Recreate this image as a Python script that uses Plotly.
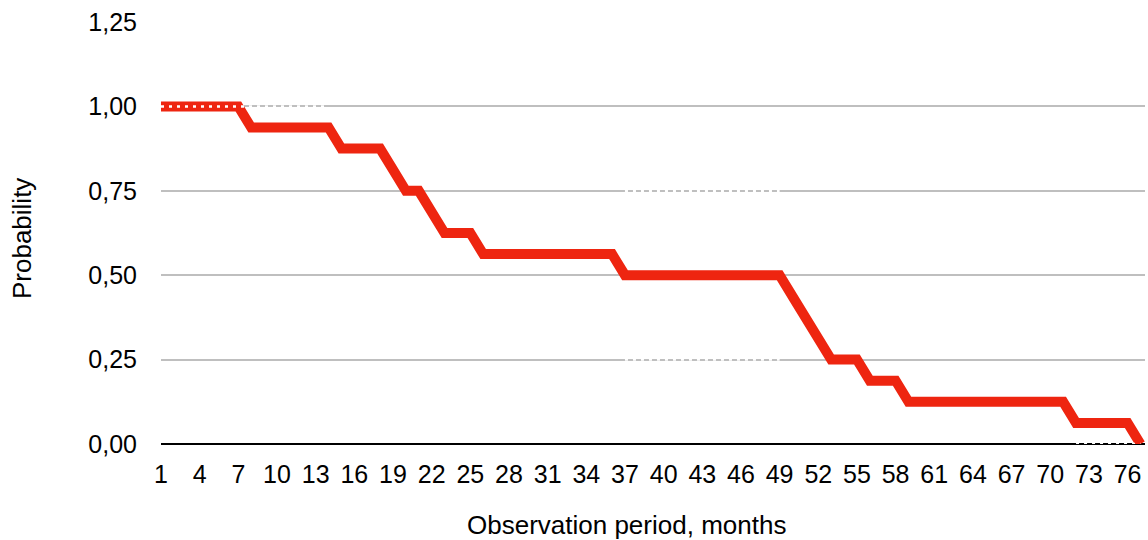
import plotly.graph_objects as go

# Observation months (categories)
months = list(range(1, 78))

# Survival probability per month
probability = (
    [1.0] * 7 +
    [0.9375] * 7 +
    [0.875] * 4 +
    [0.8125] +
    [0.75] * 2 +
    [0.6875] +
    [0.625] * 3 +
    [0.5625] * 11 +
    [0.5] * 13 +
    [0.4375, 0.375, 0.3125] +
    [0.25] * 3 +
    [0.1875] * 3 +
    [0.125] * 13 +
    [0.0625] * 5 +
    [0.0]
)

# Secondary (white dotted) series segments, None = gap
dotted_months = [1, 14, None, 37, 49, None, 37, 49, None, 72, 77]
dotted_values = [1.0, 1.0, None, 0.75, 0.75, None, 0.25, 0.25, None, 0.0, 0.0]

y_ticks = [0, 0.25, 0.5, 0.75, 1.0, 1.25]
y_ticktext = ["0,00", "0,25", "0,50", "0,75", "1,00", "1,25"]
x_ticks = list(range(1, 77, 3))

x_title = "Observation period, months"
y_title = "Probability"

fig = go.Figure()
fig.add_trace(go.Scatter(
    x=months, y=probability, mode="lines",
    line=dict(color="#EE2510", width=10),
    showlegend=False, hoverinfo="skip",
))
fig.add_trace(go.Scatter(
    x=dotted_months, y=dotted_values, mode="lines",
    line=dict(color="#FFFFFF", width=2.5, dash="3px,5px"),
    connectgaps=False, showlegend=False, hoverinfo="skip",
))

font = "Liberation Sans, Arial, sans-serif"
fs = 25
fig.update_layout(
    width=1148, height=540,
    margin=dict(l=161, r=3, t=22, b=96),
    paper_bgcolor="white", plot_bgcolor="white",
    font=dict(family=font, size=fs, color="#000000"),
    xaxis=dict(
        range=[1, 77.35],
        tickmode="array", tickvals=x_ticks, ticktext=[str(v) for v in x_ticks],
        showgrid=False, zeroline=False, showline=False,
        ticks="", ticklabelstandoff=13,
        tickfont=dict(family=font, size=fs),
    ),
    yaxis=dict(
        range=[0, 1.25],
        tickmode="array", tickvals=y_ticks, ticktext=y_ticktext,
        showgrid=True, gridcolor="#BFBFBF", gridwidth=2,
        zeroline=True, zerolinecolor="#000000", zerolinewidth=2,
        showline=False, ticks="", ticklabelstandoff=23,
        tickfont=dict(family=font, size=fs),
    ),
    annotations=[
        dict(text=x_title, xref="paper", yref="paper", x=0.4726, y=-0.192,
             xanchor="center", yanchor="middle", showarrow=False,
             font=dict(family=font, size=26)),
        dict(text=y_title, xref="paper", yref="paper", x=-0.1413, y=0.488,
             xanchor="center", yanchor="middle", showarrow=False, textangle=-90,
             font=dict(family=font, size=26)),
    ],
)

fig.write_html("out.html", config={"displayModeBar": False},
               post_script="document.body.style.margin='0px';")
